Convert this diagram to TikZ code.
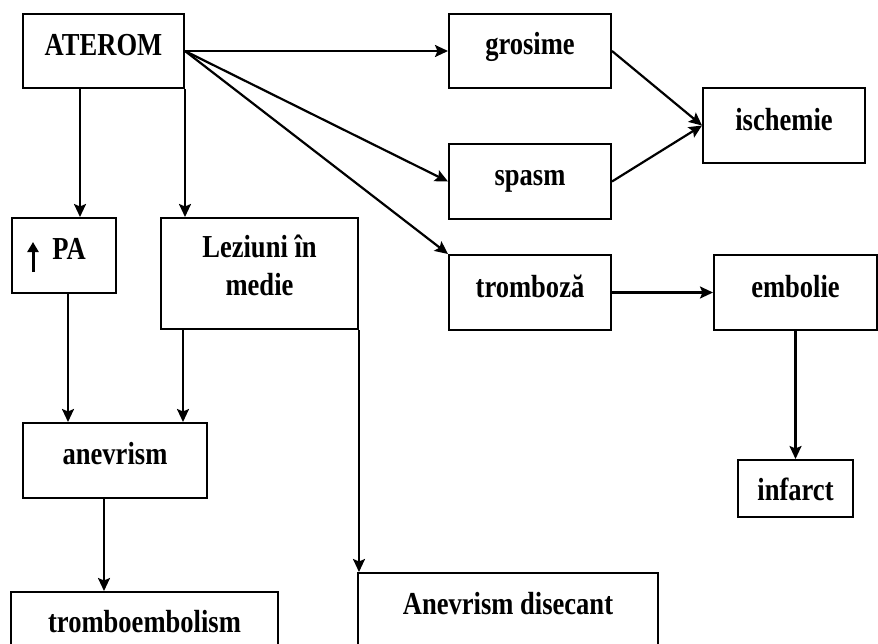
\documentclass[tikz,border=0pt]{standalone}
\usepackage{fontspec}
\setmainfont{Liberation Serif}[FakeStretch=0.83]
\usetikzlibrary{arrows.meta}
\begin{document}
\begin{tikzpicture}[x=1pt,y=-1pt,
  box/.style={draw, line width=2pt, anchor=north west, inner sep=0pt,
    font=\fontsize{32}{38}\selectfont\bfseries},
  link/.style={line width=2.2pt, -{Stealth[length=13pt,width=12pt,inset=2.5pt]}},
  uparrow/.style={line width=3pt, -{Triangle[length=10pt,width=11pt]}},
]
\clip (0,0) rectangle (878,643);
% boxes: north-west corner, size, baseline offset from the top edge
\node[box, minimum width=161pt, minimum height=74pt, text height=41pt, text depth=33pt] (aterom) at (22,13) {ATEROM};
\node[box, minimum width=162pt, minimum height=74pt, text height=40pt, text depth=34pt] (grosime) at (448,13) {grosime};
\node[box, minimum width=162pt, minimum height=75pt, text height=42pt, text depth=33pt] (ischemie) at (702,87) {ischemie};
\node[box, minimum width=162pt, minimum height=75pt, text height=41pt, text depth=34pt] (spasm) at (448,143) {spasm};
\node[box, minimum width=162pt, minimum height=75pt, text height=42pt, text depth=33pt] (tromboza) at (448,254) {tromboză};
\node[box, minimum width=163pt, minimum height=75pt, text height=42pt, text depth=33pt] (embolie) at (713,254) {embolie};
\node[box, minimum width=115pt, minimum height=57pt, text height=40pt, text depth=17pt] (infarct) at (737,459) {infarct};
\node[box, minimum width=104pt, minimum height=75pt, text height=41pt, text depth=34pt] (pa) at (11,217) {\hspace*{10pt}PA};
\node[box, minimum width=197pt, minimum height=111pt, text height=39pt, text depth=72pt] (leziuni) at (160,217)
  {\vtop{\baselineskip=38pt\halign{\hfil#\hfil\cr Leziuni în\cr medie\cr}}};
\node[box, minimum width=184pt, minimum height=75pt, text height=41pt, text depth=34pt] (anevrism) at (22,422) {anevrism};
\node[box, minimum width=267pt, minimum height=75pt, text height=40pt, text depth=35pt] (tromboembolism) at (10,591) {tromboembolism};
\node[box, minimum width=300pt, minimum height=90pt, text height=41pt, text depth=49pt] (disecant) at (357,572) {Anevrism disecant};

% up arrow inside the PA box
\draw[uparrow] ([xshift=22pt,yshift=-55pt]pa.north west) -- ++(0,-30);

% connectors
\draw[link] (aterom.east) -- (grosime.west);
\draw[link] (aterom.east) -- (spasm.west);
\draw[link] (aterom.east) -- (tromboza.north west);
\draw[link] ([xshift=58pt]aterom.south west) -- ([xshift=58pt]aterom.south west |- pa.north);
\draw[link] (aterom.south east) -- (aterom.south east |- leziuni.north);
\draw[link] ([xshift=57pt]pa.south west) -- ([xshift=57pt]pa.south west |- anevrism.north);
\draw[link] ([xshift=23pt]leziuni.south west) -- ([xshift=23pt]leziuni.south west |- anevrism.north);
\draw[link] (leziuni.south east) -- (leziuni.south east |- disecant.north);
\draw[link] ([xshift=-11pt]anevrism.south) -- ([xshift=-11pt]anevrism.south |- tromboembolism.north);
\draw[link] (grosime.east) -- (ischemie.west);
\draw[link] (spasm.east) -- (ischemie.west);
\draw[link] (tromboza.east) -- (embolie.west);
\draw[link] (embolie.south) -- (infarct.north);
\end{tikzpicture}
\end{document}
